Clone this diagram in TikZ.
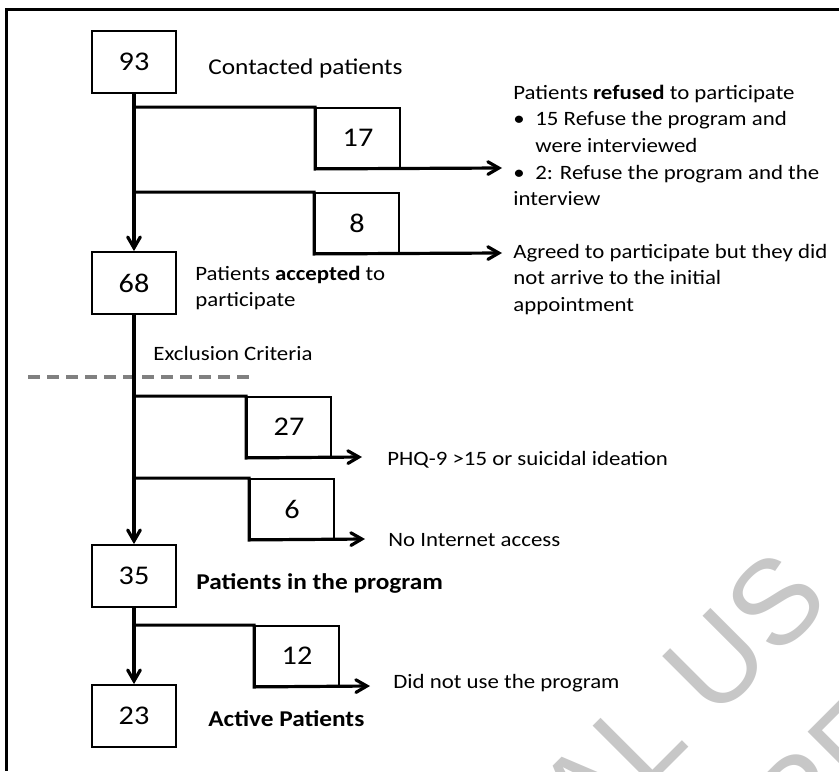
\documentclass[tikz,border=0pt]{standalone}
\usepackage{fontspec}
\setmainfont{Carlito}[FakeStretch=1.12]
\newfontfamily\wmfont{Liberation Sans}
\usetikzlibrary{positioning,arrows}
\tikzset{
numbox/.style={draw, line width=0.9pt, minimum width=42pt, minimum height=31pt, inner sep=0pt, font=\fontsize{13.5}{15}\selectfont},
sidebox/.style={numbox, minimum height=30pt},
lbl/.style={anchor=base west, inner sep=0pt, align=left, font=\fontsize{10.2}{13.35}\selectfont},
bigl/.style={lbl, font=\fontsize{11.3}{13.35}\selectfont},
% multi-line labels hang from the top of their first line
lines/.style={lbl, anchor=north west},
flow/.style={line width=1.6pt, -angle 60},
wmark/.style={text=black!22, anchor=base west, inner sep=0pt, rotate=45, font=\wmfont\fontsize{60}{68}\selectfont}
}

\begin{document}
\begin{tikzpicture}[x=0.5pt, y=-0.5pt]
  \useasboundingbox (0,0) rectangle (839,771);
  % watermark, cut by the page
  \begin{scope}
    \clip (0,0) rectangle (839,771);
    \node[wmark] (wm1) at (229,1207) {PERSONAL US};
    \node[wmark] (wm2) at (798,859) {REPRODUCTION};
  \end{scope}
  \draw[line width=1.5pt] (839,9) -- (6,9) -- (6,771);

  % main column
  \node[numbox] (n93) at (134,62) {93};
  \node[numbox] (n68) at (134,283) {68};
  \node[numbox] (n35) at (134,576) {35};
  \node[numbox] (n23) at (134,716) {23};
  % drop-outs
  \node[sidebox] (n17) at (358,138) {17};
  \node[sidebox] (n8) at (357,223) {8};
  \node[sidebox] (n27) at (289,427) {27};
  \node[sidebox] (n6) at (292,509) {6};
  \node[sidebox] (n12) at (297,656) {12};

  \node[bigl] (t93) at (208,74) {Contacted patients};
  \node[lines] (t17) at (513,80) {\strut Patients \textbf{refused} to participate\\
    \makebox[11pt][l]{\textbullet}15 Refuse the program and\\
    \hspace*{11pt}were interviewed\\
    \makebox[11pt][l]{\textbullet}2: Refuse the program and the\\
    interview};
  \node[lines] (t8) at (513,239) {\strut Agreed to participate but they did\\ not arrive to the initial\\ appointment};
  \node[lines] (t68) at (195,261) {\strut Patients \textbf{accepted} to\\ participate};
  \node[lbl] (excl) at (153,360) {Exclusion Criteria};
  \node[lbl] (t27) at (387,465) {PHQ-9 >15 or suicidal ideation};
  \node[lbl] (t6) at (388,546) {No Internet access};
  \node[bigl] (t35) at (196,589) {\textbf{Patients in the program}};
  \node[lbl] (t12) at (393,688) {Did not use the program};
  \node[bigl] (t23) at (208,726) {\textbf{Active Patients}};

  \draw[black!50, line width=1.6pt, dash pattern=on 6pt off 3.5pt] (28,377) -- (250,377);

  \coordinate (e17) at (502,168);
  \coordinate (e8) at (502,253);
  \coordinate (e27) at (362,457);
  \coordinate (e6) at (365,539);
  \coordinate (e12) at (370,686);

  \draw[flow] (n93) -- (n68);
  \draw[flow] (n68) -- (n35);
  \draw[flow] (n35) -- (n23);
  \draw[flow] (n93.south |- n17.north) -- (n17.north west) -- (n17.south west) -- (e17);
  \draw[flow] (n93.south |- n8.north) -- (n8.north west) -- (n8.south west) -- (e8);
  \draw[flow] (n68.south |- n27.north) -- (n27.north west) -- (n27.south west) -- (e27);
  \draw[flow] (n68.south |- n6.north) -- (n6.north west) -- (n6.south west) -- (e6);
  \draw[flow] (n35.south |- n12.north) -- (n12.north west) -- (n12.south west) -- (e12);
\end{tikzpicture}
\end{document}
